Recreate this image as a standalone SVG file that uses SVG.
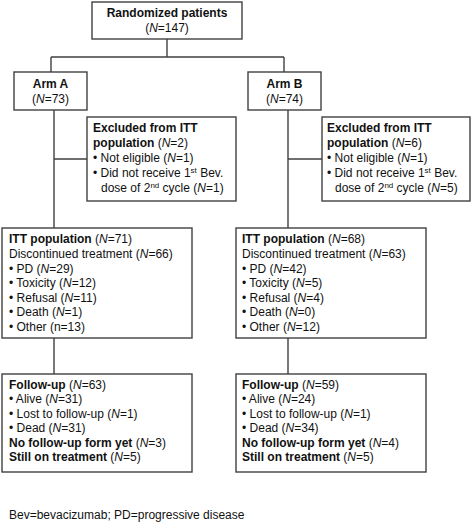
<svg xmlns="http://www.w3.org/2000/svg" width="472" height="528" viewBox="0 0 472 528">
<style>
.box{fill:#fff;stroke:#404040;stroke-width:1.4}
.ln{fill:none;stroke:#404040;stroke-width:1.4}
text{font-family:"Liberation Sans",Arial,sans-serif;font-size:12px;fill:#111}
.b{font-weight:bold}
.c{text-anchor:middle}
.i{font-style:italic}
.sup{font-size:8px}
</style>
<rect width="472" height="528" fill="#fff"/>
<g id="connectors">
<path class="ln" d="M167,39 V57 M51,57 H284 M51,57 V72 M284,57 V72"/>
<path class="ln" d="M54,110 V228 M54,159 H87"/>
<path class="ln" d="M288,110 V228 M288,159 H322"/>
<path class="ln" d="M54,338 V374 M288,338 V374"/>
</g>
<g id="randomized">
<rect class="box" x="92" y="2" width="150" height="37"/>
<text class="c b" x="167" y="17">Randomized patients</text>
<text class="c" x="167" y="32">(<tspan class="i">N</tspan>=147)</text>
</g>
<g id="armA">
<rect class="box" x="14" y="72" width="73" height="38"/>
<text class="c b" x="50.5" y="88">Arm A</text>
<text class="c" x="50.5" y="103">(<tspan class="i">N</tspan>=73)</text>
</g>
<g id="armB">
<rect class="box" x="248" y="72" width="73" height="38"/>
<text class="c b" x="284.5" y="88">Arm B</text>
<text class="c" x="284.5" y="103">(<tspan class="i">N</tspan>=74)</text>
</g>
<g id="excludedA">
<rect class="box" x="87" y="117" width="149" height="84"/>
<text class="b" x="93" y="132">Excluded from ITT</text>
<text x="93" y="147"><tspan class="b">population</tspan> (<tspan class="i">N</tspan>=2)</text>
<text x="93" y="162">• Not eligible (<tspan class="i">N</tspan>=1)</text>
<text x="93" y="177">• Did not receive 1<tspan class="sup" dy="-4">st</tspan><tspan dy="4"> Bev.</tspan></text>
<text x="101" y="192">dose of 2<tspan class="sup" dy="-4">nd</tspan><tspan dy="4"> cycle (</tspan><tspan class="i">N</tspan>=1)</text>
</g>
<g id="excludedB">
<rect class="box" x="322" y="117" width="148" height="84"/>
<text class="b" x="327" y="132">Excluded from ITT</text>
<text x="327" y="147"><tspan class="b">population</tspan> (<tspan class="i">N</tspan>=6)</text>
<text x="327" y="162">• Not eligible (<tspan class="i">N</tspan>=1)</text>
<text x="327" y="177">• Did not receive 1<tspan class="sup" dy="-4">st</tspan><tspan dy="4"> Bev.</tspan></text>
<text x="335" y="192">dose of 2<tspan class="sup" dy="-4">nd</tspan><tspan dy="4"> cycle (</tspan><tspan class="i">N</tspan>=5)</text>
</g>
<g id="ittA">
<rect class="box" x="2" y="228" width="190" height="110"/>
<text x="9" y="243"><tspan class="b">ITT population</tspan> (<tspan class="i">N</tspan>=71)</text>
<text x="9" y="258">Discontinued treatment (<tspan class="i">N</tspan>=66)</text>
<text x="9" y="273">• PD (<tspan class="i">N</tspan>=29)</text>
<text x="9" y="287">• Toxicity (<tspan class="i">N</tspan>=12)</text>
<text x="9" y="302">• Refusal (<tspan class="i">N</tspan>=11)</text>
<text x="9" y="316">• Death (<tspan class="i">N</tspan>=1)</text>
<text x="9" y="331">• Other (n=13)</text>
</g>
<g id="ittB">
<rect class="box" x="236" y="228" width="190" height="110"/>
<text x="242" y="243"><tspan class="b">ITT population</tspan> (<tspan class="i">N</tspan>=68)</text>
<text x="242" y="258">Discontinued treatment (<tspan class="i">N</tspan>=63)</text>
<text x="242" y="273">• PD (<tspan class="i">N</tspan>=42)</text>
<text x="242" y="287">• Toxicity (<tspan class="i">N</tspan>=5)</text>
<text x="242" y="302">• Refusal (<tspan class="i">N</tspan>=4)</text>
<text x="242" y="316">• Death (<tspan class="i">N</tspan>=0)</text>
<text x="242" y="331">• Other (<tspan class="i">N</tspan>=12)</text>
</g>
<g id="followA">
<rect class="box" x="2" y="374" width="190" height="98"/>
<text x="9" y="389"><tspan class="b">Follow-up</tspan> (<tspan class="i">N</tspan>=63)</text>
<text x="9" y="403">• Alive (<tspan class="i">N</tspan>=31)</text>
<text x="9" y="418">• Lost to follow-up (<tspan class="i">N</tspan>=1)</text>
<text x="9" y="432">• Dead (<tspan class="i">N</tspan>=31)</text>
<text x="9" y="447"><tspan class="b">No follow-up form yet</tspan> (<tspan class="i">N</tspan>=3)</text>
<text x="9" y="461"><tspan class="b">Still on treatment</tspan> (<tspan class="i">N</tspan>=5)</text>
</g>
<g id="followB">
<rect class="box" x="236" y="374" width="190" height="98"/>
<text x="242" y="389"><tspan class="b">Follow-up</tspan> (<tspan class="i">N</tspan>=59)</text>
<text x="242" y="403">• Alive (<tspan class="i">N</tspan>=24)</text>
<text x="242" y="418">• Lost to follow-up (<tspan class="i">N</tspan>=1)</text>
<text x="242" y="432">• Dead (<tspan class="i">N</tspan>=34)</text>
<text x="242" y="447"><tspan class="b">No follow-up form yet</tspan> (<tspan class="i">N</tspan>=4)</text>
<text x="242" y="461"><tspan class="b">Still on treatment</tspan> (<tspan class="i">N</tspan>=5)</text>
</g>
<g id="footnote">
<text x="9" y="519">Bev=bevacizumab; PD=progressive disease</text>
</g>
</svg>
